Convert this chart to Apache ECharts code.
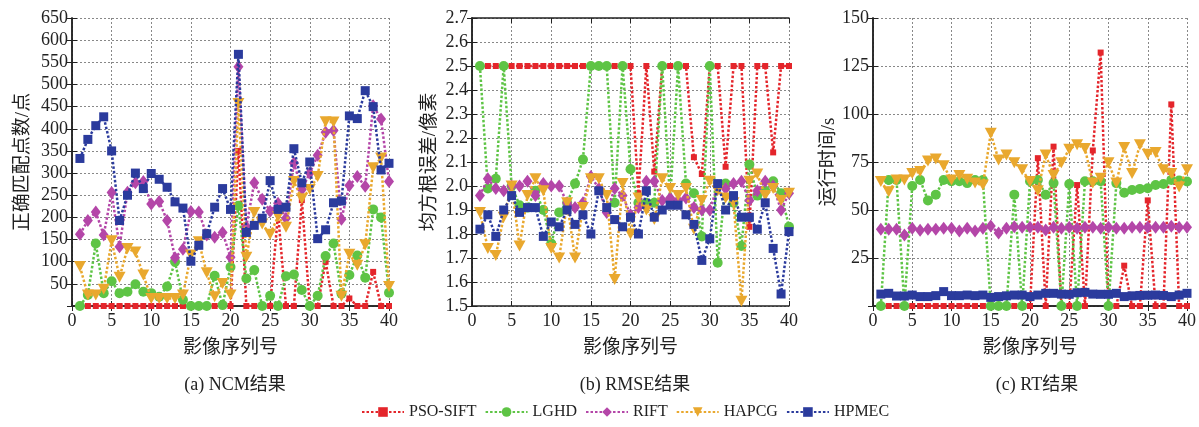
<!DOCTYPE html>
<html><head><meta charset="utf-8">
<script src="https://cdn.jsdelivr.net/npm/echarts@6/dist/echarts.min.js"></script>
<style>html,body{margin:0;padding:0;background:#fff}#c{width:1199px;height:427px}</style>
</head><body><div id="c"></div>
<script>
const idx = [1,2,3,4,5,6,7,8,9,10,11,12,13,14,15,16,17,18,19,20,21,22,23,24,25,26,27,28,29,30,31,32,33,34,35,36,37,38,39,40];
const seriesNames = ['PSO-SIFT','LGHD','RIFT','HAPCG','HPMEC'];
const xTicks = [0,5,10,15,20,25,30,35,40];

// (a) NCM
const ncmPSO   = [0,0,0,0,0,0,0,0,0,0, 0,0,0,0,0,0,0,0,0,0, 350,0,0,0,0,209,0,0,239,0, 0,100,0,0,17,0,0,77,0,0];
const ncmLGHD  = [0,25,141,29,56,29,32,49,32,29, 21,44,100,14,0,0,0,68,2,88, 226,62,81,0,23,0,67,71,36,0, 23,113,141,28,70,114,64,218,200,30];
const ncmRIFT  = [162,193,212,160,256,134,257,278,281,230, 236,193,109,128,213,212,160,155,166,110, 540,179,278,241,214,232,198,323,263,300, 340,392,396,196,272,292,270,452,422,281];
const ncmHAPCG = [89,25,25,38,147,65,130,122,70,17, 17,17,17,25,115,145,75,21,51,25, 457,110,211,185,162,202,178,281,242,263, 292,416,415,22,117,92,138,312,334,44];
const ncmHPMEC = [333,376,407,427,350,193,250,300,265,299, 286,268,235,221,101,137,163,223,265,218, 568,166,182,198,283,218,223,355,278,325, 152,172,233,237,429,423,486,450,307,322];

// (b) RMSE
const rmsePSO   = [2.5,2.5,2.5,2.5,2.5,2.5,2.5,2.5,2.5,2.5, 2.5,2.5,2.5,2.5,2.5,2.5,2.5,2.5,2.5,2.5, 1.97,2.5,2.06,2.5,2.5,2.5,2.5,2.12,2.05,2.5, 2.5,2.08,2.5,2.5,1.83,2.5,2.5,2.14,2.5,2.5];
const rmseLGHD  = [2.5,1.99,2.03,2.5,2.0,1.92,1.91,1.98,1.90,1.76, 1.89,1.93,2.01,2.11,2.5,2.5,2.5,1.93,2.5,2.07, 1.93,1.93,1.93,2.5,1.94,2.5,2.01,1.97,1.79,2.5, 1.68,2.01,1.93,1.75,2.09,1.96,1.98,2.02,1.97,1.83];
const rmseRIFT  = [1.96,2.03,1.99,1.98,2.0,2.0,2.02,1.96,2.01,2.0, 2.0,1.93,1.91,1.93,2.04,1.99,1.89,1.99,1.96,1.88, 1.91,2.02,2.02,1.94,1.95,1.94,1.95,1.91,1.90,1.90, 2.0,1.99,2.01,2.02,1.94,1.98,2.02,2.0,1.90,1.97];
const rmseHAPCG = [1.89,1.74,1.71,1.87,2.0,1.75,1.96,2.03,1.98,1.74, 1.70,1.93,1.70,1.91,2.03,2.03,1.96,1.61,2.01,1.80, 1.95,1.90,1.86,2.03,1.99,1.96,1.99,1.82,1.94,2.02, 1.98,1.95,1.93,1.52,2.02,2.05,1.96,1.99,1.94,1.97];
const rmseHPMEC = [1.82,1.88,1.79,1.90,1.96,1.89,1.91,1.91,1.79,1.85, 1.83,1.90,1.84,1.88,1.80,1.98,1.91,1.86,1.83,1.87, 1.80,1.98,1.87,1.90,1.92,1.92,1.88,1.84,1.69,1.78, 2.01,1.90,1.96,1.87,1.87,1.82,1.93,1.74,1.55,1.81];

// (c) RT
const rtPSO   = [0,0,0,0,0,0,0,0,0,0, 0,0,0,0,0,0,0,0,0,0, 77,0,83,0,0,63,0,81,132,0, 0,21,0,0,55,0,0,105,0,0];
const rtLGHD  = [0,65.6,65.6,0,62.5,65.6,55,58,65.6,65, 65,64,65.6,65.6,0,0,0,58,0,65, 65.6,58,64,0,63.5,0,65,65,65,0, 64,59,60.4,61,61.3,63,63.5,65.6,65.3,64.8];
const rtRIFT  = [40,40,40,37,40.5,39.5,40,40,40.5,40.5, 39,40.5,39,40.5,41.7,38,40.5,41.3,41,41, 41,39.6,41,40.5,41,40.5,41,41,40.5,41, 40.5,40.5,41,41,41,41,41,41.5,41,41];
const rtHAPCG = [64.8,59.5,65.6,65.6,69,70,75.5,76.5,73,65.6, 68,66,64,63,90,76,78.6,74.6,71,64.8, 60,78.6,68,74.6,81.6,84,82,64,66.5,74.6, 64,82.6,69,84,79,80,71,69,62,71];
const rtHPMEC = [6.2,6.6,5.2,5.2,5.7,4.9,4.9,5.4,7.5,5.4, 5.4,5.7,5.4,5.7,4.5,4.9,5.3,5.7,5.7,4.9, 5.7,6.6,6.6,6.2,6.1,6.9,7.1,6.2,6.1,6.1, 6.6,4.9,5.3,5.5,5.6,5.7,5.5,4.9,5.7,6.6];

const yTitles = ['正确匹配点数/点','均方根误差/像素','运行时间/s'];
const subTitles = ['(a) NCM结果','(b) RMSE结果','(c) RT结果'];
const xTitle = '影像序列号';

const FONT = "'Liberation Serif','Noto Sans CJK SC',serif";
const styles = {
  'PSO-SIFT': {color:'#e4252b', symbol:'rect', size:6},
  'LGHD':     {color:'#5ec445', symbol:'circle', size:10},
  'RIFT':     {color:'#b446a8', symbol:'diamond', size:[10,13]},
  'HAPCG':    {color:'#e9a82e', symbol:'triangle', size:[12,11], rotate:180},
  'HPMEC':    {color:'#2b3b9d', symbol:'rect', size:9}
};
const panelData = [
  [ncmPSO,ncmLGHD,ncmRIFT,ncmHAPCG,ncmHPMEC],
  [rmsePSO,rmseLGHD,rmseRIFT,rmseHAPCG,rmseHPMEC],
  [rtPSO,rtLGHD,rtRIFT,rtHAPCG,rtHPMEC]
];
const yRanges = [{min:0,max:650,interval:50},{min:1.5,max:2.7,interval:0.1},{min:0,max:150,interval:25}];
const grids = [
  {left:72, right:1199-389, top:18, height:288},
  {left:472, right:1199-789, top:18, height:288},
  {left:873, right:1199-1191, top:18, height:288}
];
const subX = [230, 630, 1032];
const yNameGap = [39, 32, 34];

const xAxis = [], yAxis = [], series = [], title = [];
grids.forEach((g,gi)=>{
  xAxis.push({type:'value', gridIndex:gi, min:0, max:40, interval:5, position:'bottom',
    name:xTitle, nameLocation:'middle', nameGap:33,
    nameTextStyle:{fontFamily:FONT, fontSize:19, color:'#222'},
    axisLine:{show:true, lineStyle:{color:'#222', width:1.5}},
    axisTick:{show:true, inside:true, length:5, lineStyle:{color:'#222'}},
    axisLabel:{fontFamily:FONT, fontSize:18, color:'#222', margin:6},
    splitLine:{show:true, lineStyle:{color:'#888', type:[2,2], width:1}}});
  xAxis.push({type:'value', gridIndex:gi, min:0, max:40, interval:5, position:'top',
    axisLine:{show:true, lineStyle:{color:'#222', width:1.5}},
    axisTick:{show:true, inside:true, length:5, lineStyle:{color:'#222'}},
    axisLabel:{show:false}, splitLine:{show:false}});
  const r = yRanges[gi];
  yAxis.push({type:'value', gridIndex:gi, min:r.min, max:r.max, interval:r.interval,
    name:yTitles[gi], nameLocation:'middle', nameGap: yNameGap[gi],
    nameTextStyle:{fontFamily:FONT, fontSize:19, color:'#222'},
    axisLine:{show:true, lineStyle:{color:'#222', width:1.5}},
    axisTick:{show:true, inside:true, length:5, lineStyle:{color:'#222'}},
    axisLabel:{fontFamily:FONT, fontSize:18, color:'#222', margin:4, showMinLabel: gi===1,
      formatter: v => gi===1 ? v.toFixed(1) : String(v)},
    splitLine:{show:true, lineStyle:{color:'#888', type:[2,2], width:1}}});
  yAxis.push({type:'value', gridIndex:gi, min:r.min, max:r.max, interval:r.interval, position:'right',
    axisLine:{show:true, lineStyle:{color:'#222', width:1.5}},
    axisTick:{show:true, inside:true, length:5, lineStyle:{color:'#222'}},
    axisLabel:{show:false}, splitLine:{show:false}});
  seriesNames.forEach((n,si)=>{
    const s = styles[n];
    series.push({name:n, type:'line', xAxisIndex:gi*2, yAxisIndex:gi*2,
      data: panelData[gi][si].map((v,k)=>[idx[k], v]),
      symbol:s.symbol, symbolSize:s.size, symbolRotate:s.rotate||0, showSymbol:true,
      itemStyle:{color:s.color}, lineStyle:{color:s.color, width:2.5, type:[2.5,2]},
      animation:false, z:2+si});
  });
  title.push({text:subTitles[gi], left:subX[gi], top:371, textAlign:'center',
    textStyle:{fontFamily:FONT, fontSize:18, fontWeight:'normal', color:'#222'}});
});

const chart = echarts.init(document.getElementById('c'), null, {renderer:'canvas'});
chart.setOption({
  backgroundColor:'#fff',
  animation:false,
  title: title,
  grid: grids,
  xAxis: xAxis, yAxis: yAxis, series: series,
  legend: {data: seriesNames, bottom: 2, left: 356, itemWidth:42, itemHeight:12, itemGap:8,
    textStyle:{fontFamily:FONT, fontSize:16, color:'#222'}}
});
</script></body></html>
